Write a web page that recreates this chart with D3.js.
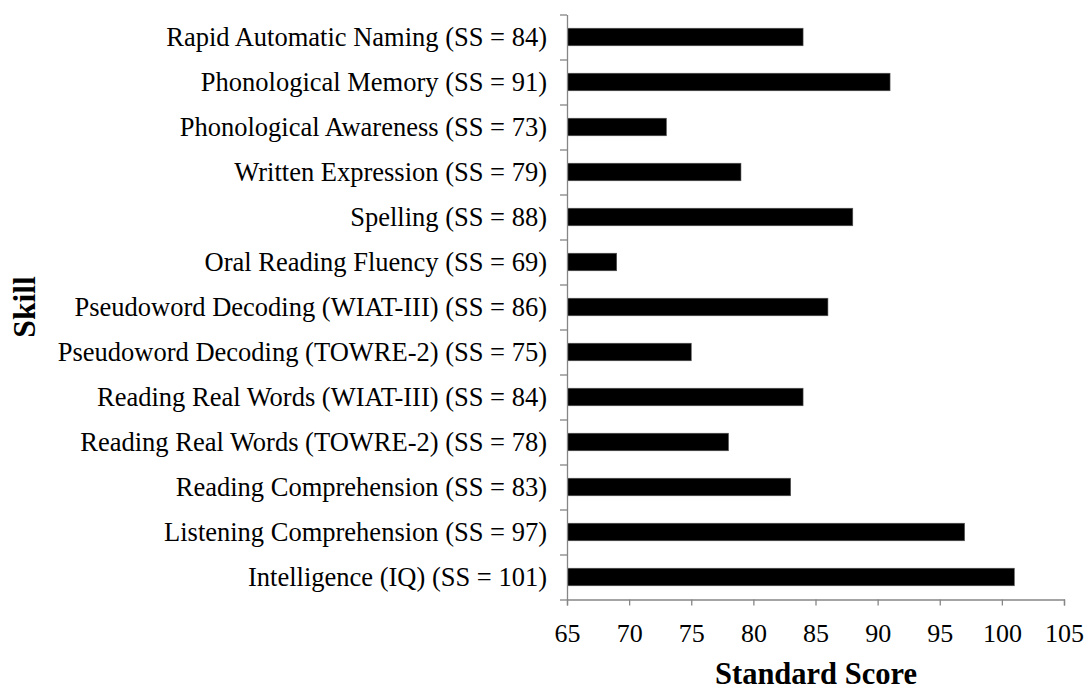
<!DOCTYPE html>
<html>
<head>
<meta charset="utf-8">
<script src="https://cdn.jsdelivr.net/npm/d3@7"></script>
<style>
  body { margin: 0; background: #fff; }
  text { font-family: "Liberation Serif", "Times New Roman", serif; fill: #000; }
</style>
</head>
<body>
<script>
// skills top to bottom, with their standard scores
var skills = ["Rapid Automatic Naming (SS = 84)", "Phonological Memory (SS = 91)", "Phonological Awareness (SS = 73)",
    "Written Expression (SS = 79)", "Spelling (SS = 88)", "Oral Reading Fluency (SS = 69)",
    "Pseudoword Decoding (WIAT-III) (SS = 86)", "Pseudoword Decoding (TOWRE-2) (SS = 75)",
    "Reading Real Words (WIAT-III) (SS = 84)", "Reading Real Words (TOWRE-2) (SS = 78)",
    "Reading Comprehension (SS = 83)", "Listening Comprehension (SS = 97)", "Intelligence (IQ) (SS = 101)"],
    scores = [84, 91, 73, 79, 88, 69, 86, 75, 84, 78, 83, 97, 101],
    xTicks = [65, 70, 75, 80, 85, 90, 95, 100, 105];

var DATA = [];
for (var i = 0; i < skills.length; i++) {
    DATA.push({skill: skills[i], score: scores[i]});
}

var W = 1086, H = 692;
var MARGINS = {left: 567, right: 22, top: 14.5, bottom: 92.5};
var width = W - MARGINS.left - MARGINS.right;
var height = H - MARGINS.top - MARGINS.bottom;

var xScale = d3.scaleLinear().domain([65, 105]).range([0, width]);
var yScale = d3.scaleBand().domain(skills).range([0, height]).paddingInner(0.61).paddingOuter(0.305);

var svg = d3.select("body").append("svg")
    .attr("width", W)
    .attr("height", H)
    .append("g")
    .attr("transform", "translate(" + MARGINS.left + "," + MARGINS.top + ")");

// bars
svg.selectAll("rect.bar").data(DATA).enter().append("rect")
    .attr("class", "bar")
    .attr("x", 0.5)
    .attr("y", function (d) { return yScale(d.skill); })
    .attr("width", function (d) { return xScale(d.score) - 0.5; })
    .attr("height", yScale.bandwidth())
    .attr("fill", "#000")
    .attr("stroke", "#555")
    .attr("stroke-width", 0.6);

var axisGray = "#868686";

// x axis
var xAxis = svg.append("g")
    .attr("transform", "translate(0," + height + ")")
    .call(d3.axisBottom(xScale).tickValues(xTicks).tickSize(6).tickPadding(0).tickSizeOuter(6));
xAxis.selectAll("line").attr("stroke", axisGray).attr("stroke-width", 1.3);
xAxis.select(".domain").attr("stroke", axisGray).attr("stroke-width", 1.3);
xAxis.selectAll("text").attr("dy", null).attr("y", 42).style("font-size", "26px");

// y axis: ticks sit between bands
var yLin = d3.scaleLinear().domain([0, skills.length]).range([0, height]);
var yAxis = svg.append("g")
    .call(d3.axisLeft(yLin).ticks(skills.length).tickSize(7).tickSizeOuter(0).tickFormat(""));
yAxis.selectAll("line").attr("stroke", axisGray).attr("stroke-width", 1.3);
yAxis.select(".domain").attr("stroke", axisGray).attr("stroke-width", 1.3);

// category labels
svg.selectAll("text.cat").data(DATA).enter().append("text")
    .attr("class", "cat")
    .attr("x", -20)
    .attr("y", function (d) { return yScale(d.skill) + yScale.bandwidth() / 2; })
    .attr("dy", "0.35em")
    .attr("text-anchor", "end")
    .style("font-size", "26.5px")
    .text(function (d) { return d.skill; });

// axis titles
svg.append("text")
    .attr("x", 816 - MARGINS.left)
    .attr("y", 684 - MARGINS.top)
    .attr("text-anchor", "middle")
    .style("font-size", "30.5px")
    .style("font-weight", "bold")
    .text("Standard Score");

svg.append("text")
    .attr("transform", "translate(" + (35 - MARGINS.left) + "," + (307 - MARGINS.top) + ") rotate(-90)")
    .attr("text-anchor", "middle")
    .style("font-size", "31.5px")
    .style("font-weight", "bold")
    .text("Skill");
</script>
</body>
</html>
